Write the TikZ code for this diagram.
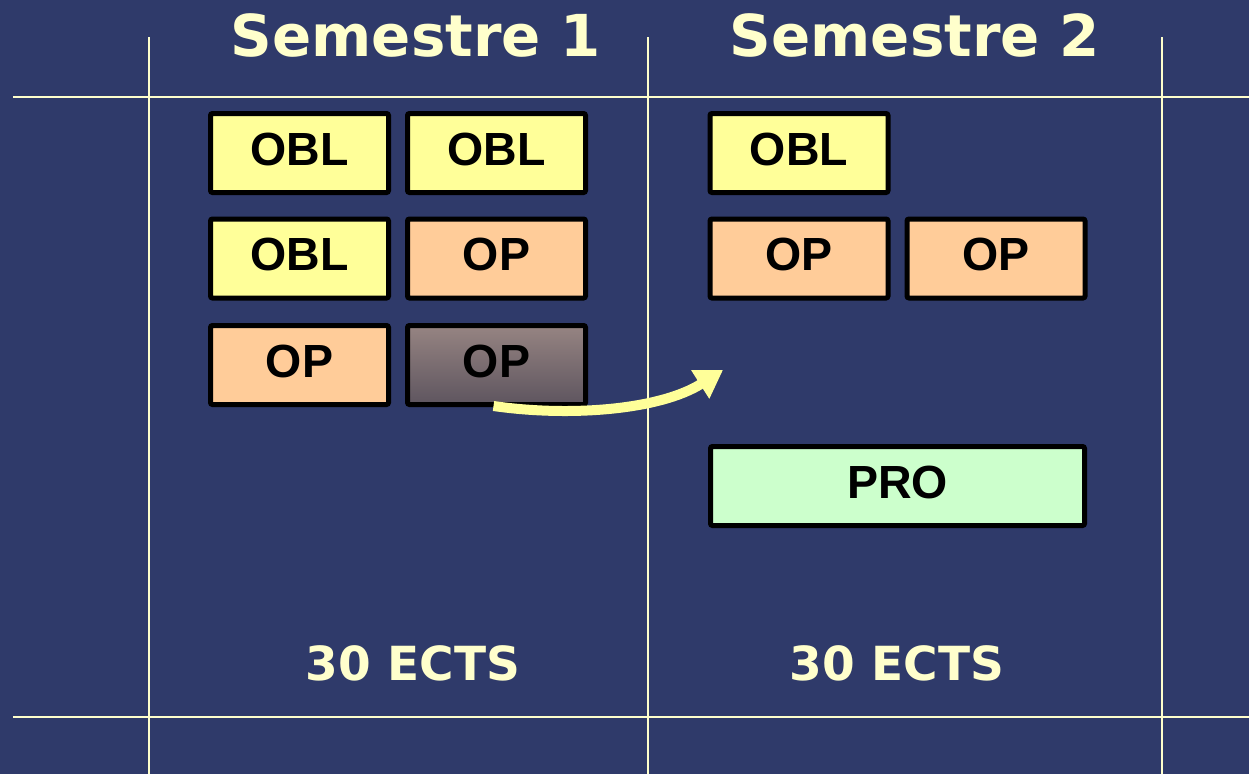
\documentclass[tikz,border=0pt]{standalone}
\usepackage{fontspec}
\setmainfont{DejaVu Sans}
\newfontfamily\boxfont{Liberation Sans}
\usetikzlibrary{arrows.meta}
\definecolor{bg}{HTML}{2F3A6A}
\definecolor{cream}{HTML}{FFFFCC}
\definecolor{oblc}{HTML}{FFFF99}
\definecolor{opc}{HTML}{FFCC99}
\definecolor{proc}{HTML}{CCFFCC}
\definecolor{gtop}{HTML}{968482}
\definecolor{gbot}{HTML}{5E555F}
\tikzset{
  course/.style={draw=black, line width=5pt, rounded corners=2pt, minimum width=178pt, minimum height=79pt,
    inner sep=0pt, text depth=8pt, font=\boxfont\bfseries\fontsize{46.5}{48}\selectfont, text=black},
  obl/.style={course, fill=oblc},
  opt/.style={course, fill=opc},
  grid/.style={draw=cream, line width=2pt},
  head/.style={text=cream, anchor=base, inner sep=0pt, font=\bfseries\fontsize{57.8}{60}\selectfont},
  ects/.style={text=cream, anchor=base, inner sep=0pt, font=\bfseries\fontsize{47}{50}\selectfont},
}
\begin{document}
\begin{tikzpicture}[x=1pt,y=-1pt]
\fill[bg] (0,0) rectangle (1249,774);
\useasboundingbox (0,0) rectangle (1249,774);
% grid lines
\draw[grid] (13,97) -- (1249,97);
\draw[grid] (13,717) -- (1249,717);
\draw[grid] (149,37) -- (149,774);
\draw[grid] (648,37) -- (648,774);
\draw[grid] (1162,37) -- (1162,774);
% headers
\node[head] (s1) at (416,56) {Semestre 1};
\node[head] (s2) at (915,56) {Semestre 2};
% semester 1
\node[obl] (a1) at (299.5,153) {OBL};
\node[obl] (a2) at (496.5,153) {OBL};
\node[obl] (b1) at (299.5,258.5) {OBL};
\node[opt] (b2) at (496.5,258.5) {OP};
\node[opt] (c1) at (299.5,365) {OP};
\node[course, top color=gtop, bottom color=gbot] (c2) at (496.5,365) {OP};
% semester 2
\node[obl] (d1) at (799,153) {OBL};
\node[opt] (e1) at (799,258.5) {OP};
\node[opt] (e2) at (996,258.5) {OP};
\node[course, fill=proc, minimum width=374pt] (pro) at (897.5,486) {PRO};
% ects
\node[ects] (t1) at (413,680) {30 ECTS};
\node[ects] (t2) at (897,680) {30 ECTS};
% arrow
\coordinate (tip) at (723,370);
\draw[oblc, line width=10pt, -{Triangle[length=27pt, width=32pt]}]
  ([xshift=-3pt,yshift=1pt]c2.south) .. controls (570,417) and (660,410) .. (tip);
\end{tikzpicture}
\end{document}
